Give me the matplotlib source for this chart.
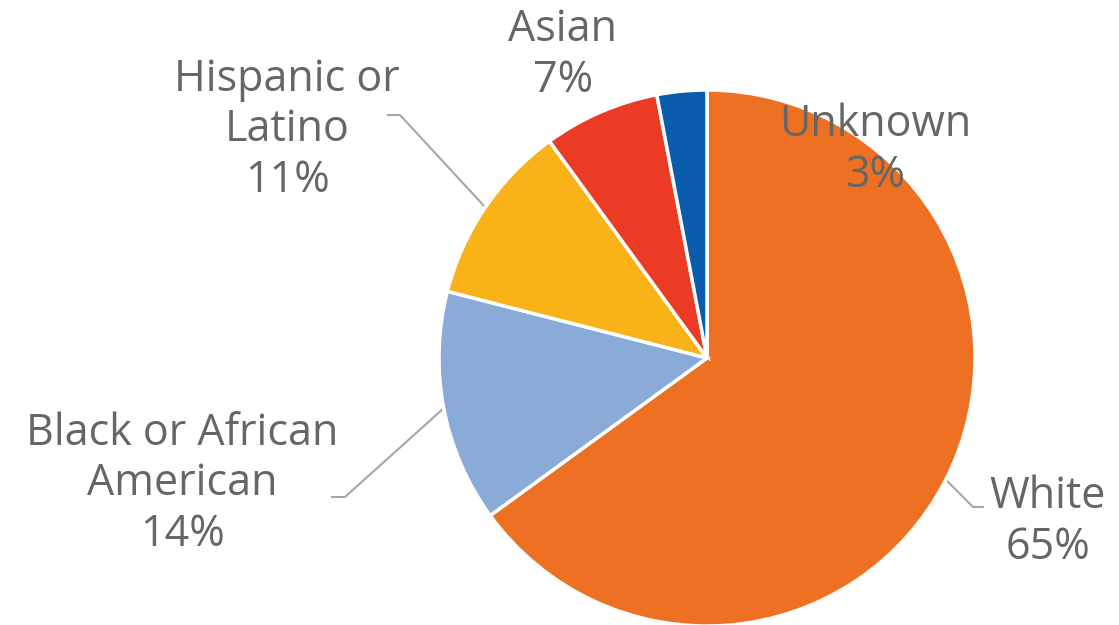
import numpy as np
import matplotlib
matplotlib.use("Agg")
from matplotlib import pyplot as plt

plt.rcParams['font.family'] = ['Open Sans', 'DejaVu Sans']

# data, clockwise from 12 o'clock
labels = ["White", "Black or African\nAmerican", "Hispanic or\nLatino", "Asian", "Unknown"]
shares = [65, 14, 11, 7, 3]
colors = ["#EE7023", "#8AAAD8", "#F9B218", "#EC3B24", "#0B5CAD"]

# label text centres in pixels (from top-left)
label_pos = [(1048, 522), (182, 484), (287, 130), (563, 55), (875, 150)]
# leader lines: (label end x, elbow x, elbow y) in pixels, or None
leaders = [(983, 973, 507), (332, 345, 497), (388, 400, 115), None, None]

W, H = 1119, 625
cx, cy, r = 707, H - 358, 268

fig = plt.figure(figsize=(W / 100, H / 100), dpi=100)
ax = fig.add_axes([0, 0, 1, 1])

ax.pie(shares, colors=colors, startangle=90, counterclock=False,
       center=(cx, cy), radius=r, frame=True,
       wedgeprops=dict(edgecolor="white", linewidth=2.5))
ax.set_xlim(0, W)
ax.set_ylim(0, H)
ax.set_aspect("equal")
ax.axis("off")

total = sum(shares)
cum = 0
for i, (lab, s) in enumerate(zip(labels, shares)):
    mid = (cum + s / 2) / total * 2 * np.pi
    cum += s
    lx, ly = label_pos[i]
    ax.text(lx, H - ly, "%s\n%d%%" % (lab, s), ha="center", va="center",
            fontsize=31, color="#666666", linespacing=1.18)
    if leaders[i] is not None:
        # leader ends on the wedge edge at its middle angle
        px = cx + r * np.sin(mid)
        py = cy + r * np.cos(mid)
        x0, x1, ey = leaders[i]
        ax.plot([x0, x1, px], [H - ey, H - ey, py], color="#A6A6A6", lw=1.5, zorder=0)

fig.savefig("out.png", dpi=100)
